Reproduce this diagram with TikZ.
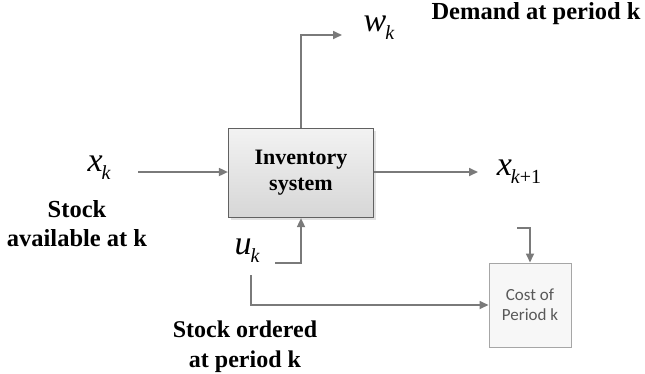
\documentclass[tikz,border=0pt]{standalone}
\usepackage{fontspec}
\setmainfont{Liberation Serif}
\newfontfamily\calfont{Carlito}
\usetikzlibrary{arrows.meta,shadows}
\newcommand{\mvar}[2]{{\fontsize{34}{34}\selectfont\itshape #1}\kern-1pt\raisebox{-8pt}{\fontsize{20}{20}\selectfont #2}}
\begin{document}
\begin{tikzpicture}[x=1pt,y=-1pt,
  conn/.style={draw=black!52, line width=1.7pt},
  arr/.style={conn, -{Triangle[length=9pt,width=8pt]}},
  lbl/.style={font=\fontsize{24.5}{29}\selectfont\bfseries, align=center, inner sep=0pt},
  mv/.style={inner sep=0pt},
  mainbox/.style={draw=black!62, line width=1.2pt, top color=gray!10, bottom color=gray!32,
    minimum width=145pt, minimum height=89pt, inner sep=0pt, align=center,
    font=\fontsize{22}{26}\selectfont\bfseries,
    drop shadow={shadow xshift=2pt,shadow yshift=-2pt,fill=gray!45}},
  costbox/.style={draw=black!35, line width=1pt, fill=gray!6, minimum width=82pt,
    minimum height=84pt, inner sep=0pt, align=center, text=black!65,
    font=\calfont\fontsize{17}{20}\selectfont}]
\useasboundingbox (0,0) rectangle (645,373);
\node[mainbox] (sys) at (301,173) {Inventory\\system};
\node[costbox] (cost) at (530,305) {Cost of\\Period k};
% labels
\node[mv] (xk) at (99,168) {\mvar{x}{\itshape k}};
\node[lbl] (xklbl) at (77,224) {Stock\\available at k};
\node[mv] (xk1) at (519,172) {\mvar{x}{\itshape k\upshape +1}};
\node[mv] (wk) at (379,28) {\mvar{w}{\itshape k}};
\node[lbl] (wklbl) at (536,14) {Demand at period k};
\node[mv] (uk) at (247,251) {\mvar{u}{\itshape k}};
\node[lbl, font=\fontsize{24}{30}\selectfont\bfseries] (uklbl) at (245,347) {Stock ordered\\at period k};
% coordinates for free ends
\coordinate (xin) at (138,172);
\coordinate (xout) at (478,172);
\coordinate (wend) at (342,35);
\coordinate (ua) at (275,263);
\coordinate (ub) at (251,275);
\coordinate (ct) at (517,228);
% connectors
\draw[arr] (xin) -- (sys.west |- xin);
\draw[arr] (sys.east |- xout) -- (xout);
\draw[arr] (sys.north) |- (wend);
\draw[arr] (ua) -| (sys.south);
\draw[arr] (ub) |- (cost.west);
\draw[arr] (ct) -| (cost.north);
\end{tikzpicture}
\end{document}
